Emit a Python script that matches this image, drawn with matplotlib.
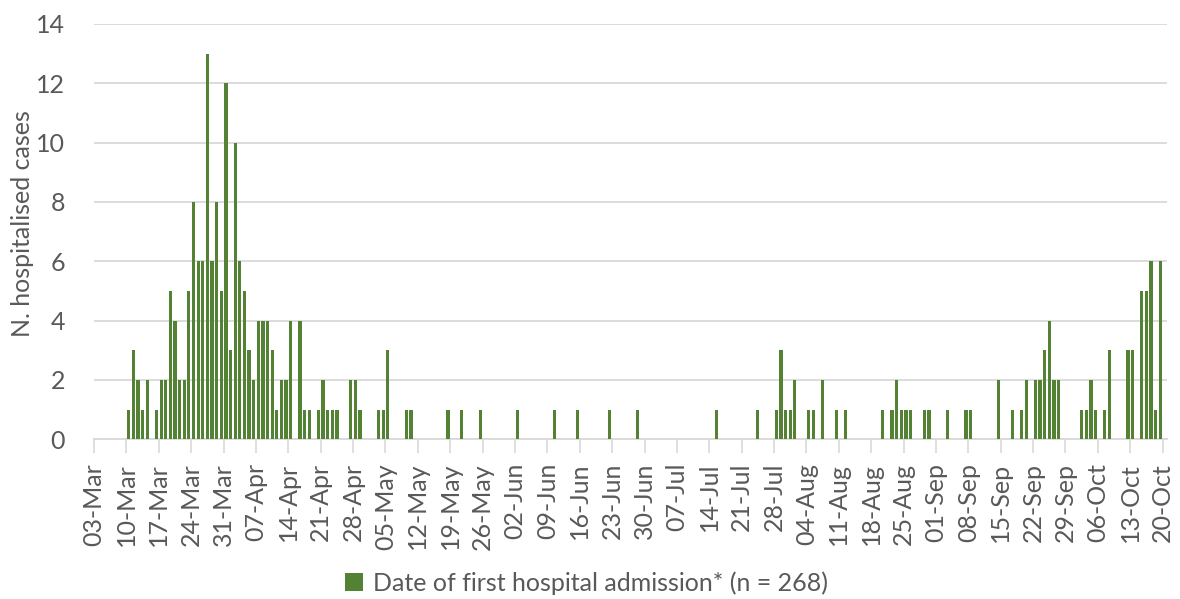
import numpy as np
import pandas as pd
import matplotlib
matplotlib.use("Agg")
import matplotlib.pyplot as plt

# daily hospital admissions (only days with cases listed)
admit_dates = [
    "2020-03-10", "2020-03-11", "2020-03-12", "2020-03-13", "2020-03-14", "2020-03-16",
    "2020-03-17", "2020-03-18", "2020-03-19", "2020-03-20", "2020-03-21", "2020-03-22",
    "2020-03-23", "2020-03-24", "2020-03-25", "2020-03-26", "2020-03-27", "2020-03-28",
    "2020-03-29", "2020-03-30", "2020-03-31", "2020-04-01", "2020-04-02", "2020-04-03",
    "2020-04-04", "2020-04-05", "2020-04-06", "2020-04-07", "2020-04-08", "2020-04-09",
    "2020-04-10", "2020-04-11", "2020-04-12", "2020-04-13", "2020-04-14", "2020-04-16",
    "2020-04-17", "2020-04-18", "2020-04-20", "2020-04-21", "2020-04-22", "2020-04-23",
    "2020-04-24", "2020-04-27", "2020-04-28", "2020-04-29", "2020-05-03", "2020-05-04",
    "2020-05-05", "2020-05-09", "2020-05-10", "2020-05-18", "2020-05-21", "2020-05-25",
    "2020-06-02", "2020-06-10", "2020-06-15", "2020-06-22", "2020-06-28", "2020-07-15",
    "2020-07-24", "2020-07-28", "2020-07-29", "2020-07-30", "2020-07-31", "2020-08-01",
    "2020-08-04", "2020-08-05", "2020-08-07", "2020-08-10", "2020-08-12", "2020-08-20",
    "2020-08-22", "2020-08-23", "2020-08-24", "2020-08-25", "2020-08-26", "2020-08-29",
    "2020-08-30", "2020-09-03", "2020-09-07", "2020-09-08", "2020-09-14", "2020-09-17",
    "2020-09-19", "2020-09-20", "2020-09-22", "2020-09-23", "2020-09-24", "2020-09-25",
    "2020-09-26", "2020-09-27", "2020-10-02", "2020-10-03", "2020-10-04", "2020-10-05",
    "2020-10-07", "2020-10-08", "2020-10-12", "2020-10-13", "2020-10-15", "2020-10-16",
    "2020-10-17", "2020-10-18", "2020-10-19",
]
admit_counts = [
    1, 3, 2, 1, 2, 1,
    2, 2, 5, 4, 2, 2,
    5, 8, 6, 6, 13, 6,
    8, 5, 12, 3, 10, 6,
    5, 3, 2, 4, 4, 4,
    3, 1, 2, 2, 4, 4,
    1, 1, 1, 2, 1, 1,
    1, 2, 2, 1, 1, 1,
    3, 1, 1, 1, 1, 1,
    1, 1, 1, 1, 1, 1,
    1, 1, 3, 1, 1, 2,
    1, 1, 2, 1, 1, 1,
    1, 2, 1, 1, 1, 1,
    1, 1, 1, 1, 2, 1,
    1, 2, 2, 2, 3, 4,
    2, 2, 1, 1, 2, 1,
    1, 3, 3, 3, 5, 5,
    6, 1, 6,
]
start_date = "2020-03-03"
end_date = "2020-10-20"
legend_label = "Date of first hospital admission* (n = 268)"

days = pd.date_range(start_date, end_date, freq="D")
series = pd.Series(0, index=days)
series.loc[pd.to_datetime(admit_dates)] = admit_counts
counts = series.values

plt.rcParams['font.family'] = ['Lato', 'DejaVu Sans']
txt = '#595959'
green = '#548235'

fig = plt.figure(figsize=(11.8, 5.99), dpi=100)
ax = fig.add_axes([0.0797, 0.2666, 0.9095, 0.6934])

x = np.arange(len(counts)) + 0.5
ax.bar(x, counts, width=0.7, color=green, label=legend_label, zorder=3)

tick_idx = np.arange(0, len(days), 7)
ax.set_xticks(tick_idx)
ax.set_xticklabels([days[i].strftime('%d-%b') for i in tick_idx],
                   rotation=90, fontsize=18, color=txt)
ax.set_xlim(0, len(days))
ax.set_ylim(0, 14)
ax.set_yticks(np.arange(0, 15, 2))
ax.tick_params(axis='y', length=0, labelsize=18, labelcolor=txt, pad=21)
ax.tick_params(axis='x', length=10, color='#d9d9d9', width=1.2, pad=7)
ax.grid(axis='y', color='#d9d9d9', lw=1.3, zorder=0)
for s in ['top', 'right', 'left']:
    ax.spines[s].set_visible(False)
ax.spines['bottom'].set_color('#d9d9d9')
ax.spines['bottom'].set_linewidth(1.3)

fig.text(0.019, 0.627, 'N. hospitalised cases', rotation=90, ha='center',
         va='center', fontsize=18, color=txt)

fig.legend(loc='center', bbox_to_anchor=(0.497, 0.027), frameon=False,
           fontsize=18, labelcolor=txt, handlelength=0.7, handleheight=0.7,
           handletextpad=0.4)

fig.savefig('out.png', dpi=100)
